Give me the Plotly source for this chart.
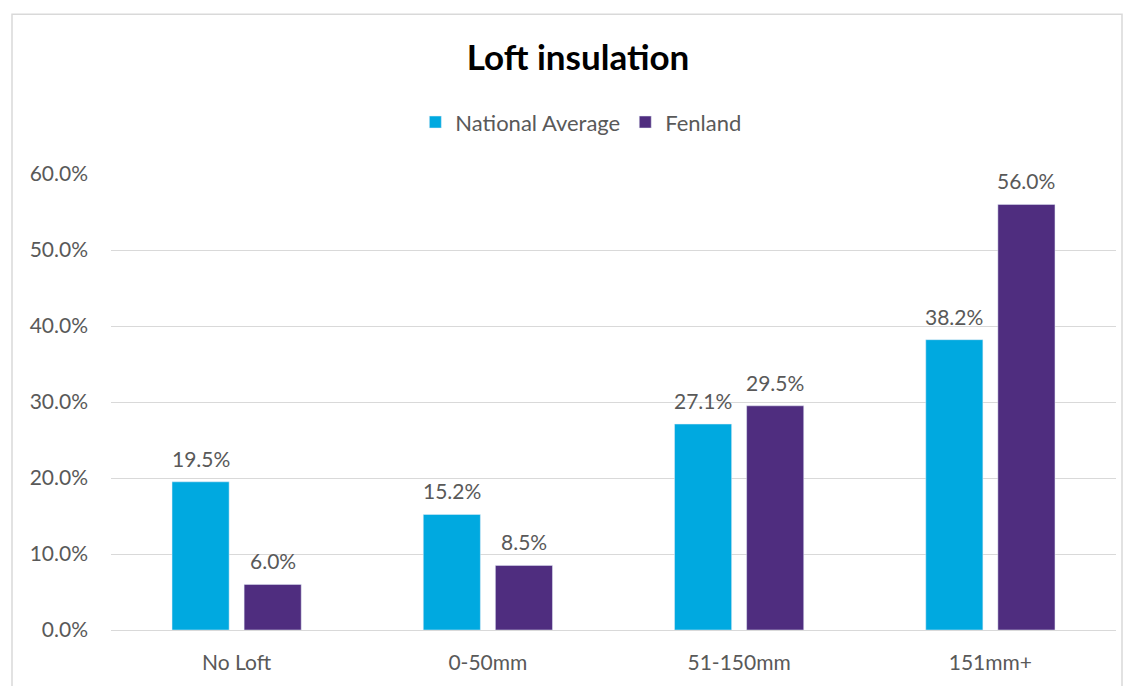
import plotly.graph_objects as go

categories = ["No Loft", "0-50mm", "51-150mm", "151mm+"]
national_average = [19.5, 15.2, 27.1, 38.2]
fenland = [6.0, 8.5, 29.5, 56.0]
y_ticks = [0, 10, 20, 30, 40, 50, 60]
y_tick_labels = ["0.0%", "10.0%", "20.0%", "30.0%", "40.0%", "50.0%", "60.0%"]

FONT = "Lato"
GRAY = "#595959"

fig = go.Figure()
fig.add_trace(go.Bar(name="National Average", x=categories, y=national_average,
                     marker_color="#00A9E0"))
fig.add_trace(go.Bar(name="Fenland", x=categories, y=fenland,
                     marker_color="#4F2D7F"))

annotations = []
for series, shift in ((national_average, -36), (fenland, 36)):
    for c, v in zip(categories, series):
        annotations.append(dict(x=c, y=v, xref="x", yref="y", text=f"{v:.1f}%",
                                showarrow=False, xshift=shift, yshift=9,
                                yanchor="bottom",
                                font=dict(size=21, color=GRAY, family=FONT)))

fig.update_layout(
    width=1132, height=686,
    margin=dict(l=111, r=16, t=174, b=54),
    paper_bgcolor="white", plot_bgcolor="white",
    barmode="group", bargap=0.426, bargroupgap=0.208,
    font=dict(family=FONT, color=GRAY, size=21),
    title=dict(text="<b>Loft insulation</b>", x=578 / 1132, xanchor="center",
               y=1 - 58 / 686, yanchor="middle",
               font=dict(size=35, color="black", family=FONT)),
    legend=dict(orientation="h", x=0.468, xanchor="center", y=(632 - 122) / 458,
                yanchor="middle", font=dict(size=22, color=GRAY, family=FONT),
                itemwidth=30, traceorder="normal"),
    showlegend=True,
    annotations=annotations,
    yaxis=dict(range=[0, 60], tickvals=y_ticks, ticktext=y_tick_labels,
               showgrid=True, gridcolor="#d9d9d9", gridwidth=1,
               zeroline=False, showline=False, ticks="", ticklen=0,
               ticklabelstandoff=22,
               tickfont=dict(size=21, color=GRAY, family=FONT)),
    xaxis=dict(showgrid=False, showline=True, linecolor="#d9d9d9", linewidth=1,
               ticks="", ticklabelstandoff=14,
               tickfont=dict(size=21, color=GRAY, family=FONT)),
    shapes=[dict(type="rect", xref="paper", yref="paper",
                 x0=(12 - 111) / 1005, x1=(1122 - 111) / 1005,
                 y0=(632 - 700) / 458, y1=(632 - 13.5) / 458,
                 line=dict(color="#d9d9d9", width=1.5), fillcolor="rgba(0,0,0,0)",
                 layer="below")],
)

fig.write_html("out.html")
